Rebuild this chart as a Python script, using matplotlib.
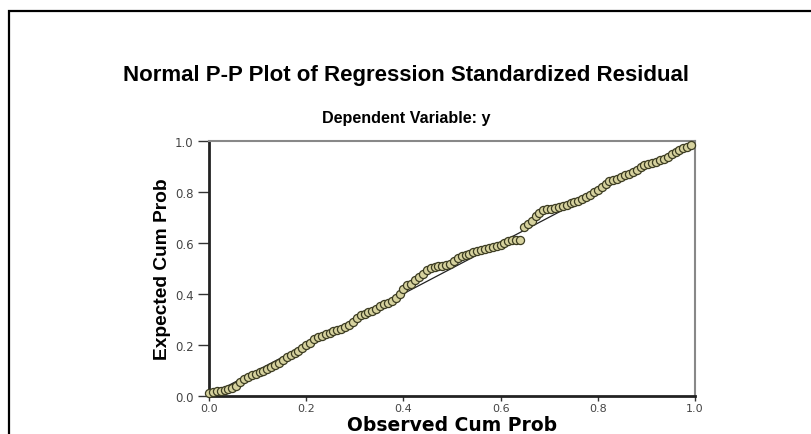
import matplotlib
matplotlib.use('Agg')
import matplotlib.pyplot as plt
from matplotlib.patches import Rectangle

# 观测累积概率 / 期望累积概率
observed = [0.000, 0.008, 0.016, 0.024, 0.032, 0.040, 0.048, 0.056, 0.064, 0.072,
            0.080, 0.088, 0.096, 0.104, 0.112, 0.120, 0.128, 0.136, 0.144, 0.152,
            0.160, 0.168, 0.176, 0.184, 0.192, 0.200, 0.208, 0.216, 0.224, 0.232,
            0.240, 0.248, 0.256, 0.264, 0.272, 0.280, 0.288, 0.296, 0.304, 0.312,
            0.320, 0.328, 0.336, 0.344, 0.352, 0.360, 0.368, 0.376, 0.384, 0.392,
            0.400, 0.408, 0.416, 0.424, 0.432, 0.440, 0.448, 0.456, 0.464, 0.472,
            0.480, 0.488, 0.496, 0.504, 0.512, 0.520, 0.528, 0.536, 0.544, 0.552,
            0.560, 0.568, 0.576, 0.584, 0.592, 0.600, 0.608, 0.616, 0.624, 0.632,
            0.640, 0.648, 0.656, 0.664, 0.672, 0.680, 0.688, 0.696, 0.704, 0.712,
            0.720, 0.728, 0.736, 0.744, 0.752, 0.760, 0.768, 0.776, 0.784, 0.792,
            0.800, 0.808, 0.816, 0.824, 0.832, 0.840, 0.848, 0.856, 0.864, 0.872,
            0.880, 0.888, 0.896, 0.904, 0.912, 0.920, 0.928, 0.936, 0.944, 0.952,
            0.960, 0.968, 0.976, 0.984, 0.992]
expected = [0.010, 0.014, 0.018, 0.020, 0.022, 0.026, 0.030, 0.040, 0.054, 0.066,
            0.074, 0.080, 0.086, 0.092, 0.098, 0.105, 0.113, 0.121, 0.130, 0.140,
            0.150, 0.160, 0.168, 0.176, 0.186, 0.197, 0.208, 0.222, 0.232, 0.236,
            0.241, 0.246, 0.252, 0.258, 0.263, 0.268, 0.276, 0.290, 0.304, 0.316,
            0.322, 0.327, 0.333, 0.340, 0.352, 0.358, 0.364, 0.372, 0.382, 0.400,
            0.418, 0.434, 0.438, 0.452, 0.466, 0.478, 0.492, 0.502, 0.506, 0.509,
            0.510, 0.513, 0.516, 0.528, 0.540, 0.546, 0.551, 0.557, 0.563, 0.568,
            0.573, 0.577, 0.580, 0.583, 0.586, 0.590, 0.598, 0.605, 0.610, 0.612,
            0.612, 0.662, 0.672, 0.686, 0.704, 0.716, 0.727, 0.731, 0.734, 0.737,
            0.740, 0.744, 0.749, 0.754, 0.759, 0.765, 0.772, 0.780, 0.788, 0.798,
            0.808, 0.818, 0.832, 0.841, 0.846, 0.851, 0.857, 0.864, 0.871, 0.879,
            0.887, 0.896, 0.903, 0.908, 0.913, 0.918, 0.924, 0.930, 0.938, 0.947,
            0.955, 0.963, 0.970, 0.976, 0.984]
ticks = [0.0, 0.2, 0.4, 0.6, 0.8, 1.0]
tick_labels = ['0.0', '0.2', '0.4', '0.6', '0.8', '1.0']

plt.rcParams['font.family'] = ['Liberation Sans', 'DejaVu Sans']

fig = plt.figure(figsize=(8.12, 4.35), dpi=100)
# 外框
fig.patches.append(Rectangle((9 / 812, -0.1), 1.2, 1 - 12 / 435 + 0.1,
                             transform=fig.transFigure, fill=False,
                             edgecolor='black', linewidth=1.6))

ax = fig.add_axes([209 / 812, 1 - 396.7 / 435, 486 / 812, 255 / 435])
ax.plot([0, 1], [0, 1], color='#222222', linewidth=0.9, zorder=2)
ax.scatter(observed, expected, s=34, facecolor='#d6d29e', edgecolor='#3c3c22',
           linewidth=0.9, zorder=3, clip_on=False)

ax.set_xlim(0, 1)
ax.set_ylim(0, 1)
ax.set_xticks(ticks)
ax.set_xticklabels(tick_labels, family='DejaVu Sans')
ax.set_yticks(ticks)
ax.set_yticklabels(tick_labels, family='DejaVu Sans')
ax.tick_params(axis='both', direction='out', labelsize=8, labelcolor='#444444',
               color='#333333', width=1)
ax.tick_params(axis='y', length=8, pad=3, labelsize=8.5)
ax.tick_params(axis='x', length=3.5, pad=1.5)

for side in ['left', 'bottom']:
    ax.spines[side].set_linewidth(2)
    ax.spines[side].set_color('#222222')
for side in ['right', 'top']:
    ax.spines[side].set_linewidth(1.5)
    ax.spines[side].set_color('#888888')

ax.set_xlabel('Observed Cum Prob', fontsize=13.5, fontweight='bold',
              family='DejaVu Sans', va='center')
ax.xaxis.set_label_coords(0.5, -(425.5 - 396.7) / 255)
ax.set_ylabel('Expected Cum Prob', fontsize=13.8, fontweight='bold',
              family=['Liberation Sans Narrow', 'Liberation Sans'], labelpad=3)

fig.text(406 / 812, 1 - 75 / 435, 'Normal P-P Plot of Regression Standardized Residual',
         ha='center', va='center', fontsize=16, fontweight='bold')
fig.text(406 / 812, 1 - 119 / 435, 'Dependent Variable: y',
         ha='center', va='center', fontsize=11.6, fontweight='bold')

fig.savefig('out.png', dpi=100, facecolor='white')
